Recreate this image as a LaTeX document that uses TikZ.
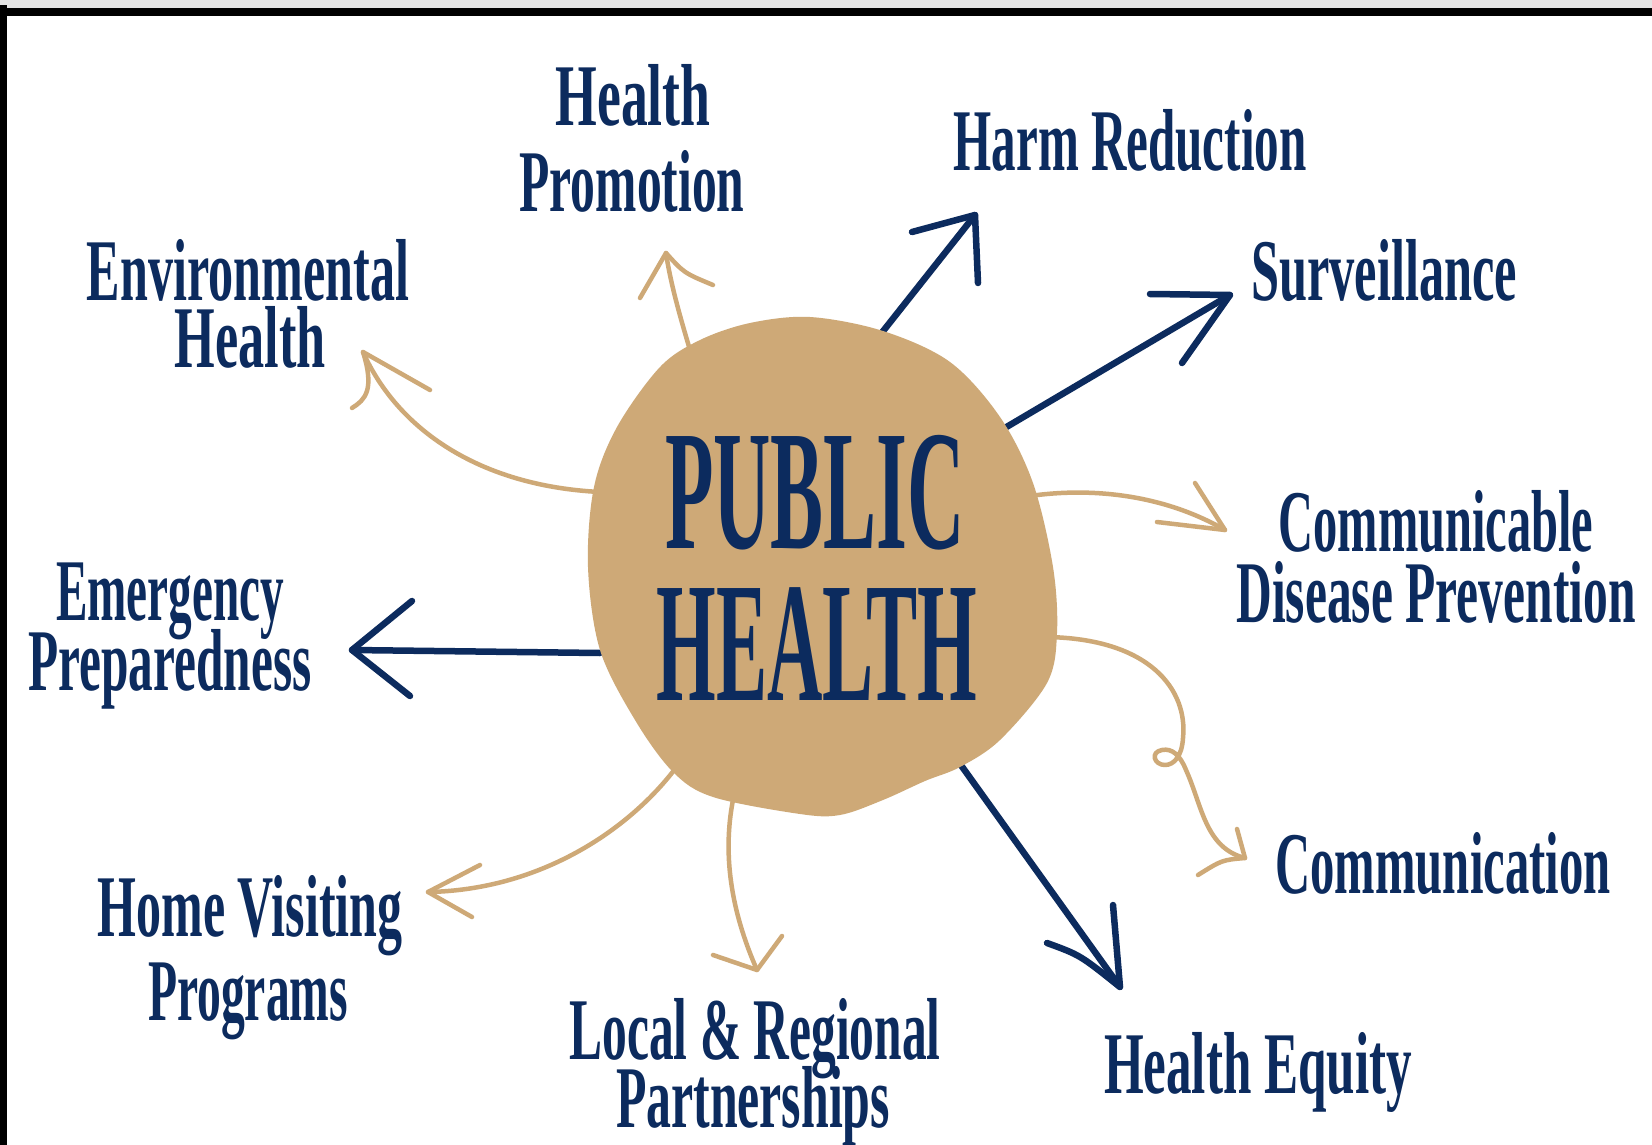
\documentclass[tikz,border=0pt]{standalone}
\usepackage{graphicx}
\usepackage{fontspec}
\newfontfamily\hand{Liberation Serif}
\definecolor{navy}{RGB}{12,43,94}
\definecolor{tanc}{RGB}{206,169,119}
\newcommand{\fitw}[2]{\resizebox{#1pt}{\height}{#2}}
\tikzset{
  lbl/.style={font=\hand\bfseries\fontsize{88}{90}\selectfont, text=navy, inner sep=0pt, anchor=base},
  big/.style={font=\hand\bfseries\fontsize{171}{175}\selectfont, text=navy, inner sep=0pt, anchor=base},
  tanline/.style={draw=tanc, line width=4.5pt, line cap=round, line join=round},
  navyline/.style={draw=navy, line width=6.5pt, line cap=round, line join=round},
}
\begin{document}
\begin{tikzpicture}[x=1pt,y=-1pt]
\useasboundingbox (0,0) rectangle (1652,1145);
\fill[white] (0,0) rectangle (1652,1145);
% frame
\fill[gray!22] (0,0) rectangle (1652,8);
\fill[black] (0,8) rectangle (1652,16);
\fill[black] (0,5) rectangle (7,1145);

% arrow end points
\coordinate (hpS) at (690,350);  \coordinate (hpT) at (666,253);
\coordinate (hrS) at (880,335);  \coordinate (hrT) at (975,215);
\coordinate (svS) at (998,432);  \coordinate (svT) at (1230,295);
\coordinate (ehS) at (600,492);  \coordinate (ehT) at (363,352);
\coordinate (cdS) at (1030,496); \coordinate (cdT) at (1225,530);
\coordinate (epS) at (600,653);  \coordinate (epT) at (352,650);
\coordinate (cmS) at (1045,637); \coordinate (cmT) at (1245,858);
\coordinate (hvS) at (678,765);  \coordinate (hvT) at (428,892);
\coordinate (lrS) at (734,795);  \coordinate (lrT) at (757,970);
\coordinate (heS) at (958,761);  \coordinate (heT) at (1120,987);

% arrows (drawn under the blob)
\draw[tanline] (hpS) .. controls (678,310) and (670,280) .. (hpT);
\draw[tanline] (640,298) -- (hpT) .. controls (684,273) .. (713,285);

\draw[navyline] (hrS) -- (hrT);
\draw[navyline] (912,232) -- (hrT) -- (978,283);

\draw[navyline] (svS) -- (svT);
\draw[navyline] (1150,294) -- (svT) -- (1182,363);

\draw[tanline] (ehS) .. controls (480,486) and (398,430) .. (ehT);
\draw[tanline] (430,390) -- (ehT) .. controls (375,390) and (365,400) .. (352,408);

\draw[tanline] (cdS) .. controls (1100,486) and (1170,498) .. (cdT);
\draw[tanline] (1195,483) -- (cdT) -- (1157,522);

\draw[navyline] (epS) -- (epT);
\draw[navyline] (412,601) -- (epT) -- (410,696);

\draw[tanline] (cmS) .. controls (1150,638) and (1188,690) .. (1183,738)
  .. controls (1182,756) and (1174,765) .. (1165,765)
  .. controls (1154,765) and (1150,752) .. (1162,750)
  .. controls (1172,748) and (1180,755) .. (1186,770)
  .. controls (1202,805) and (1205,848) .. (cmT);
\draw[tanline] (1237,829) -- (cmT) .. controls (1222,860) .. (1198,875);

\draw[tanline] (hvS) .. controls (630,830) and (540,890) .. (hvT);
\draw[tanline] (480,865) -- (hvT) -- (472,917);

\draw[tanline] (lrS) .. controls (720,860) and (735,920) .. (lrT);
\draw[tanline] (713,955) -- (lrT) -- (782,936);

\draw[navyline] (heS) -- (heT);
\draw[navyline] (1047,943) .. controls (1080,955) .. (heT) -- (1113,905);

% central blob
\fill[tanc] plot[smooth cycle, tension=0.55] coordinates {
  (810,317) (883,331) (950,362) (1000,417) (1033,483) (1053,567) (1057,633)
  (1047,683) (1000,740) (960,767) (925,781) (883,800) (840,815) (800,814)
  (713,797) (673,772) (635,720) (600,650) (588,567) (594,487) (617,427)
  (660,367) (700,340) (750,323)};
\coordinate (blob) at (818,566);

\node[big] (ph1) at (815,548) {\fitw{300}{PUBLIC}};
\node[big] (ph2) at (817,700) {\fitw{321}{HEALTH}};

% labels
\node[lbl] (hp1) at (633,126) {\fitw{155}{Health}};
\node[lbl] (hp2) at (632,211) {\fitw{225}{Promotion}};
\node[lbl] (hr)  at (1130,171) {\fitw{353}{Harm Reduction}};
\node[lbl] (sv)  at (1384,300) {\fitw{266}{Surveillance}};
\node[lbl] (eh1) at (248,300) {\fitw{322}{Environmental}};
\node[lbl] (eh2) at (250,367) {\fitw{151}{Health}};
\node[lbl] (cd1) at (1436,551) {\fitw{315}{Communicable}};
\node[lbl] (cd2) at (1436,622) {\fitw{399}{Disease Prevention}};
\node[lbl] (ep1) at (170,620) {\fitw{228}{Emergency}};
\node[lbl] (ep2) at (170,690) {\fitw{283}{Preparedness}};
\node[lbl] (cm)  at (1443,893) {\fitw{335}{Communication}};
\node[lbl] (hv1) at (250,936) {\fitw{305}{Home Visiting}};
\node[lbl] (hv2) at (248,1020) {\fitw{200}{Programs}};
\node[lbl] (lr1) at (755,1059) {\fitw{371}{Local \& Regional}};
\node[lbl] (lr2) at (753,1127) {\fitw{274}{Partnerships}};
\node[lbl] (he)  at (1258,1093) {\fitw{308}{Health Equity}};
\end{tikzpicture}
\end{document}
